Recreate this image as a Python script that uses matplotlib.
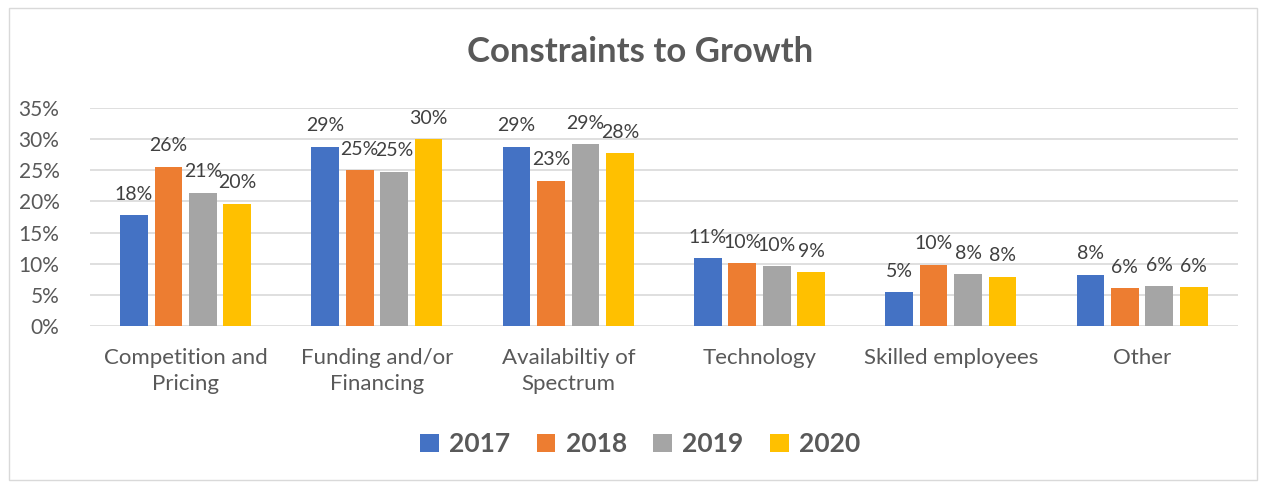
import matplotlib

matplotlib.use("Agg")

import matplotlib.pyplot as plt
import numpy as np
from matplotlib.patches import Rectangle
from matplotlib.ticker import FuncFormatter

categories = [
    "Competition and\nPricing",
    "Funding and/or\nFinancing",
    "Availabiltiy of\nSpectrum",
    "Technology",
    "Skilled employees",
    "Other",
]
years = ["2017", "2018", "2019", "2020"]
v2017 = [17.8, 28.8, 28.8, 10.9, 5.4, 8.2]
v2018 = [25.6, 25.0, 23.3, 10.1, 9.8, 6.1]
v2019 = [21.4, 24.8, 29.2, 9.6, 8.3, 6.4]
v2020 = [19.6, 30.0, 27.7, 8.6, 7.9, 6.2]
y_ticks = [0, 5, 10, 15, 20, 25, 30, 35]

COLORS = ["#4472C4", "#ED7D31", "#A5A5A5", "#FFC000"]
TEXT = "#595959"
GRID = "#D9D9D9"

plt.rcParams["font.family"] = ["Lato", "DejaVu Sans"]

fig = plt.figure(figsize=(12.63, 4.87), dpi=100)
fig.patches.append(
    Rectangle((0.007, 0.015), 0.988, 0.968, transform=fig.transFigure,
              fill=False, edgecolor="#D9D9D9", linewidth=1.0)
)
ax = fig.add_axes([0.0713, 0.3306, 0.9087, 0.4476])

x = np.arange(len(categories))
width = 0.145
step = 0.18
series = [v2017, v2018, v2019, v2020]
for i, (year, values) in enumerate(zip(years, series)):
    pos = x + (i - 1.5) * step
    bars = ax.bar(pos, values, width=width, color=COLORS[i], label=year, zorder=3)
    for bar, val in zip(bars, values):
        ax.annotate(f"{val:.0f}%", (bar.get_x() + bar.get_width() / 2, val),
                    xytext=(0, 9), textcoords="offset points",
                    ha="center", va="bottom", fontsize=14, color="#404040")

ax.set_xlim(-0.5, len(categories) - 0.5)
ax.set_ylim(0, 35)
ax.set_yticks(y_ticks)
ax.yaxis.set_major_formatter(FuncFormatter(lambda v, _p: f"{v:.0f}%"))
ax.grid(True, axis="y", color=GRID, linewidth=1.2, zorder=0)
for side in ["top", "right", "left", "bottom"]:
    ax.spines[side].set_visible(False)
ax.tick_params(axis="y", length=0, pad=22, labelsize=15, labelcolor=TEXT)
ax.set_xticks(x)
ax.set_xticklabels(categories, fontsize=16, color=TEXT, linespacing=1.35)
ax.tick_params(axis="x", length=0, pad=16)

fig.text(0.507, 0.893, "Constraints to Growth", ha="center", va="center",
         fontsize=25, fontweight="bold", color=TEXT)

ax.legend(loc="center", ncol=4, frameon=False, handlelength=0.7, handleheight=0.7,
          handletextpad=0.4, columnspacing=1.0,
          prop={"size": 19, "weight": "bold"}, labelcolor=TEXT)
leg = ax.get_legend()
leg.set_bbox_to_anchor((0.507, 0.088), transform=fig.transFigure)

fig.savefig("out.png", dpi=100)
